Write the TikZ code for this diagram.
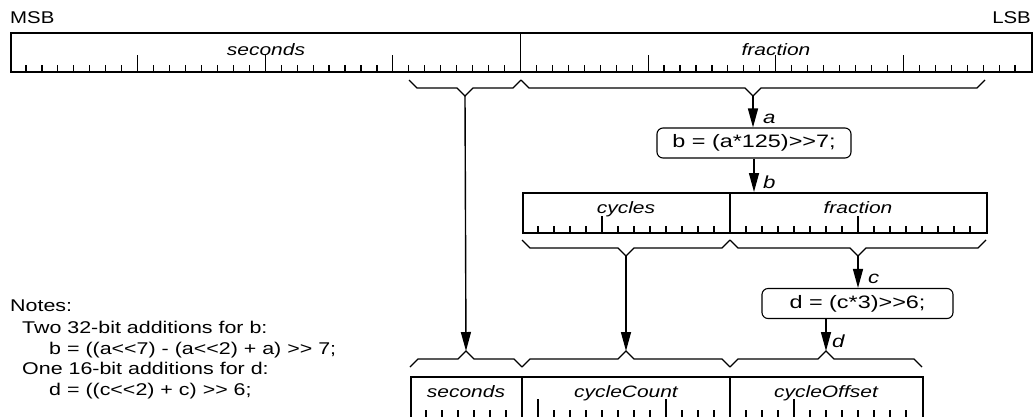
\documentclass[tikz,border=0pt]{standalone}
\usepackage{fontspec}
\setmainfont{Liberation Sans}
\usepackage{graphicx}
\usetikzlibrary{arrows.meta}
\newcommand{\sx}[1]{\scalebox{1.27}[1]{#1}}
\newcommand{\sy}[1]{\scalebox{1.3}[1]{#1}}
\newcommand{\sz}[1]{\scalebox{1.26}[1]{#1}}
\newcommand{\mybracedn}[4]{%
  \draw[brc] (#1,#3) -- ++(8,8) -- ({(#1+#2)/2-8},#3+8) -- ({(#1+#2)/2},#3+16)
    -- ({(#1+#2)/2+8},#3+8) -- (#2-8,#3+8) -- (#2,#3);
  \coordinate (#4) at ({(#1+#2)/2},#3+16);}
\newcommand{\mybraceup}[4]{%
  \draw[brc] (#1,#3) -- ++(8,-8) -- ({(#1+#2)/2-8},#3-8) -- ({(#1+#2)/2},#3-16)
    -- ({(#1+#2)/2+8},#3-8) -- (#2-8,#3-8) -- (#2,#3);
  \coordinate (#4) at ({(#1+#2)/2},#3-16);}
\begin{document}
\begin{tikzpicture}[x=1pt,y=-1pt,
  regbox/.style={draw, line width=1.6pt, inner sep=0pt, anchor=north west},
  tk/.style={line width=1.2pt},
  brc/.style={line width=1.3pt, line join=miter},
  arr/.style={line width=1.4pt, -{Triangle[length=19pt,width=10pt]}},
  fld/.style={font=\fontsize{16.5}{18}\selectfont\itshape, inner sep=0pt, anchor=base},
  lbl/.style={font=\fontsize{17.5}{20}\selectfont\itshape, inner sep=0pt, anchor=base west},
  txt/.style={font=\fontsize{17}{20}\selectfont, inner sep=0pt, anchor=base west},
  op/.style={draw, line width=1.1pt, rounded corners=6pt, minimum width=194pt,
    minimum height=30pt, inner sep=0pt, font=\fontsize{18}{20}\selectfont},
]
\useasboundingbox (0,0) rectangle (1034,416);

% ---------- top register (64 bits) ----------
\node[regbox, minimum width=1021pt, minimum height=39pt] (R1) at (10,32) {};
\foreach \i in {1,...,63} \draw[tk] ({10+\i*15.953125},71) -- ++(0,-6);
\foreach \i in {8,16,24,40,48,56} \draw[tk] ({10+\i*15.953125},71) -- ++(0,-16);
\draw[line width=1.6pt] (520.5,32) -- ++(0,39);
\node[txt] (msb) at (10,23) {\scalebox{1.2}[1]{MSB}};
\node[txt, anchor=base east] (lsb) at (1031,23) {\scalebox{1.2}[1]{LSB}};
\node[fld] (f-sec) at (266,55) {\sx{seconds}};
\node[fld] (f-frac) at (776,55) {\sx{fraction}};

\mybracedn{409}{521}{80}{t1}
\mybracedn{521}{985}{80}{t2}

% ---------- first operation ----------
\node[op] (op1) at (754,143) {\sy{b = (a*125)>{}>7;}};
\draw[arr] (t2) -- (t2 |- op1.north);
\node[lbl] (la) at (763,123) {\sx{a}};

% ---------- middle register (29 bits) ----------
\node[regbox, minimum width=464pt, minimum height=40pt] (R2) at (522,192) {};
\foreach \i in {1,...,28} \draw[tk] ({522+\i*16},232) -- ++(0,-6);
\foreach \i in {5,21} \draw[tk] ({522+\i*16},232) -- ++(0,-16);
\draw[line width=1.6pt] (730,192) -- ++(0,40);
\node[fld] (m-cyc) at (626,213) {\sx{cycles}};
\node[fld] (m-frac) at (858,213) {\sx{fraction}};
\draw[arr] (op1.south) -- (op1.south |- R2.north);
\node[lbl] (lb) at (763,188) {\sx{b}};

\mybracedn{522}{730}{240}{m1}
\mybracedn{730}{986}{240}{m2}

% ---------- second operation ----------
\node[op, minimum width=191pt] (op2) at (857.5,303.5) {\sy{d = (c*3)>{}>6;}};
\draw[arr] (m2) -- (m2 |- op2.north);
\node[lbl] (lc) at (868,283) {\sx{c}};

% ---------- bottom register (32 bits) ----------
\mybraceup{410}{522}{367}{b1}
\mybraceup{522}{730}{367}{b2}
\mybraceup{730}{922}{367}{b3}
\node[regbox, minimum width=512pt, minimum height=41pt] (R3) at (410,376) {};
\foreach \i in {1,...,31} \draw[tk] ({410+\i*16},417) -- ++(0,-7);
\foreach \i in {8,16,24} \draw[tk] ({410+\i*16},417) -- ++(0,-18);
\draw[line width=1.6pt] (522,376) -- ++(0,41);
\draw[line width=1.6pt] (730,376) -- ++(0,41);
\node[fld] (b-sec) at (466,397) {\sx{seconds}};
\node[fld] (b-cc) at (626,397) {\sx{cycleCount}};
\node[fld] (b-co) at (826,397) {\sx{cycleOffset}};

\draw[arr] (t1) -- (b1);
\draw[arr] (m1) -- (b2);
\draw[arr] (op2.south -| b3) -- (b3);
\node[lbl] (ld) at (832,347) {\sx{d}};

% ---------- notes ----------
\node[txt] (n0) at (10,311) {\sz{Notes:}};
\node[txt] (n1) at (22,333) {\sz{Two 32-bit additions for b:}};
\node[txt] (n2) at (49,354) {\sz{b = ((a<{}<7) - (a<{}<2) + a) >{}> 7;}};
\node[txt] (n3) at (22,374) {\sz{One 16-bit additions for d:}};
\node[txt] (n4) at (49,395) {\sz{d = ((c<{}<2) + c) >{}> 6;}};
\end{tikzpicture}
\end{document}
